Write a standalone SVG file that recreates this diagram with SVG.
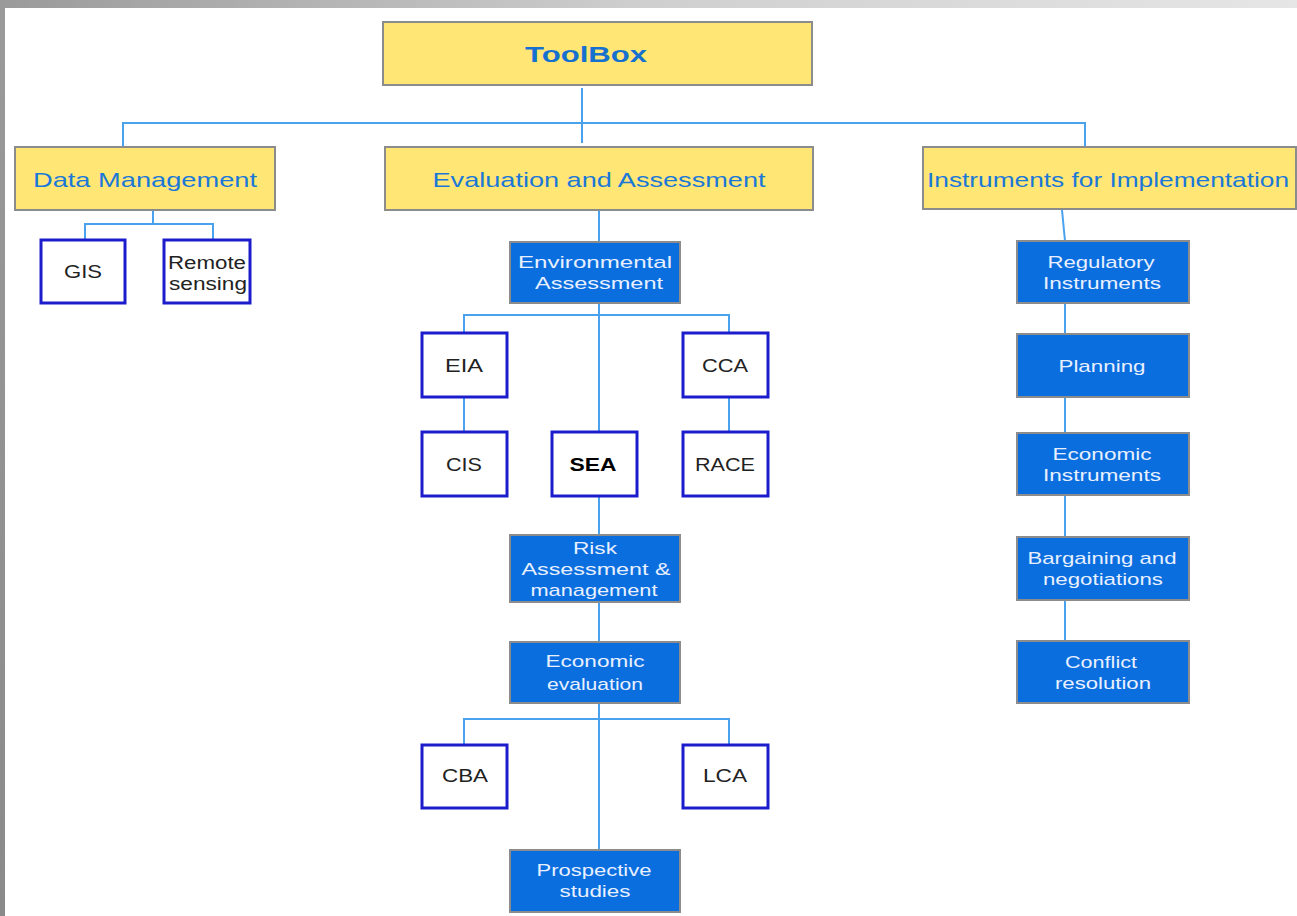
<svg xmlns="http://www.w3.org/2000/svg" width="1297" height="916" viewBox="0 0 1297 916">
<defs>
<linearGradient id="topband" x1="0" y1="0" x2="1" y2="0">
<stop offset="0" stop-color="#9a9a9a"/>
<stop offset="0.5" stop-color="#cfcfcf"/>
<stop offset="1" stop-color="#e6e6e6"/>
</linearGradient>
<linearGradient id="leftband" x1="0" y1="0" x2="0" y2="1">
<stop offset="0" stop-color="#9a9a9a"/>
<stop offset="1" stop-color="#8a8a8a"/>
</linearGradient>
</defs>
<style>
.yel{fill:#ffe675;stroke:#8c8c8c;stroke-width:2}
.blu{fill:#0a6ede;stroke:#8c8c8c;stroke-width:2}
.wht{fill:#ffffff;stroke:#1c1ccc;stroke-width:3}
.con{fill:none;stroke:#4aa2ee;stroke-width:2}
text{text-anchor:middle;font-family:"Liberation Sans",Arial,sans-serif}
.yt{font-size:21px;fill:#1a78d8}
.bt{font-size:17px;fill:#e8f0ff}
.wt{font-size:18px;fill:#222}
</style>
<rect x="0" y="0" width="1297" height="916" fill="#ffffff"/>
<rect x="0" y="0" width="1297" height="8" fill="url(#topband)"/>
<rect x="0" y="0" width="5" height="916" fill="url(#leftband)"/>

<g id="connectors">
<path class="con" d="M582 88 V143"/>
<path class="con" d="M123 147 V123 H1085 V147"/>
<path class="con" d="M153 210 V224 M85 240 V224 H213 V240"/>
<path class="con" d="M599 210 V242"/>
<path class="con" d="M599 303 V432 M464 333 V315 H729 V333"/>
<path class="con" d="M464 397 V432 M729 397 V432"/>
<path class="con" d="M599 496 V535 M599 602 V642"/>
<path class="con" d="M599 703 V850 M464 745 V719 H729 V745"/>
<path class="con" d="M1062 210 L1065 241 M1065 303 V334 M1065 397 V433 M1065 495 V537 M1065 600 V641"/>
</g>

<g id="toolbox"><rect class="yel" x="383" y="22" width="429" height="63"/><text x="586" y="62" class="yt" style="font-weight:bold;font-size:22px;fill:#1570d0" textLength="122" lengthAdjust="spacingAndGlyphs">ToolBox</text></g>
<g id="data-management"><rect class="yel" x="15" y="147" width="260" height="63"/><text x="145" y="187" class="yt" textLength="224" lengthAdjust="spacingAndGlyphs">Data Management</text></g>
<g id="evaluation"><rect class="yel" x="385" y="147" width="428" height="63"/><text x="599" y="187" class="yt" textLength="333" lengthAdjust="spacingAndGlyphs">Evaluation and Assessment</text></g>
<g id="instruments"><rect class="yel" x="923" y="147" width="373" height="62"/><text x="1108" y="187" class="yt" textLength="362" lengthAdjust="spacingAndGlyphs">Instruments for Implementation</text></g>

<g id="gis"><rect class="wht" x="41" y="240" width="84" height="63"/><text x="83" y="278" class="wt" textLength="38" lengthAdjust="spacingAndGlyphs">GIS</text></g>
<g id="remote-sensing"><rect class="wht" x="164" y="240" width="86" height="63"/><text x="207" y="269" class="wt" textLength="78" lengthAdjust="spacingAndGlyphs">Remote</text><text x="208" y="290" class="wt" textLength="78" lengthAdjust="spacingAndGlyphs">sensing</text></g>

<g id="env-assessment"><rect class="blu" x="510" y="242" width="170" height="61"/><text x="595" y="268" class="bt" textLength="154" lengthAdjust="spacingAndGlyphs">Environmental</text><text x="599" y="289" class="bt" textLength="128" lengthAdjust="spacingAndGlyphs">Assessment</text></g>
<g id="eia"><rect class="wht" x="422" y="333" width="85" height="64"/><text x="464" y="372" class="wt" textLength="38" lengthAdjust="spacingAndGlyphs">EIA</text></g>
<g id="cca"><rect class="wht" x="683" y="333" width="85" height="64"/><text x="725" y="372" class="wt" textLength="46" lengthAdjust="spacingAndGlyphs">CCA</text></g>
<g id="cis"><rect class="wht" x="422" y="432" width="85" height="64"/><text x="464" y="471" class="wt" textLength="36" lengthAdjust="spacingAndGlyphs">CIS</text></g>
<g id="sea"><rect class="wht" x="552" y="432" width="85" height="64"/><text x="593" y="471" class="wt" style="font-weight:bold;fill:#000" textLength="47" lengthAdjust="spacingAndGlyphs">SEA</text></g>
<g id="race"><rect class="wht" x="683" y="432" width="85" height="64"/><text x="725" y="471" class="wt" textLength="60" lengthAdjust="spacingAndGlyphs">RACE</text></g>
<g id="risk"><rect class="blu" x="510" y="535" width="170" height="67"/><text x="595" y="554" class="bt" textLength="44" lengthAdjust="spacingAndGlyphs">Risk</text><text x="596" y="575" class="bt" textLength="149" lengthAdjust="spacingAndGlyphs">Assessment &amp;</text><text x="594" y="596" class="bt" textLength="127" lengthAdjust="spacingAndGlyphs">management</text></g>
<g id="economic-evaluation"><rect class="blu" x="510" y="642" width="170" height="61"/><text x="595" y="667" class="bt" textLength="99" lengthAdjust="spacingAndGlyphs">Economic</text><text x="595" y="690" class="bt" textLength="96" lengthAdjust="spacingAndGlyphs">evaluation</text></g>
<g id="cba"><rect class="wht" x="422" y="745" width="85" height="63"/><text x="465" y="782" class="wt" textLength="46" lengthAdjust="spacingAndGlyphs">CBA</text></g>
<g id="lca"><rect class="wht" x="683" y="745" width="85" height="63"/><text x="725" y="782" class="wt" textLength="44" lengthAdjust="spacingAndGlyphs">LCA</text></g>
<g id="prospective"><rect class="blu" x="510" y="850" width="170" height="62"/><text x="594" y="876" class="bt" textLength="115" lengthAdjust="spacingAndGlyphs">Prospective</text><text x="595" y="897" class="bt" textLength="71" lengthAdjust="spacingAndGlyphs">studies</text></g>

<g id="regulatory"><rect class="blu" x="1017" y="241" width="172" height="62"/><text x="1101" y="268" class="bt" textLength="107" lengthAdjust="spacingAndGlyphs">Regulatory</text><text x="1102" y="289" class="bt" textLength="118" lengthAdjust="spacingAndGlyphs">Instruments</text></g>
<g id="planning"><rect class="blu" x="1017" y="334" width="172" height="63"/><text x="1102" y="372" class="bt" textLength="87" lengthAdjust="spacingAndGlyphs">Planning</text></g>
<g id="economic-instruments"><rect class="blu" x="1017" y="433" width="172" height="62"/><text x="1102" y="460" class="bt" textLength="99" lengthAdjust="spacingAndGlyphs">Economic</text><text x="1102" y="481" class="bt" textLength="118" lengthAdjust="spacingAndGlyphs">Instruments</text></g>
<g id="bargaining"><rect class="blu" x="1017" y="537" width="172" height="63"/><text x="1102" y="564" class="bt" textLength="149" lengthAdjust="spacingAndGlyphs">Bargaining and</text><text x="1103" y="585" class="bt" textLength="120" lengthAdjust="spacingAndGlyphs">negotiations</text></g>
<g id="conflict"><rect class="blu" x="1017" y="641" width="172" height="62"/><text x="1101" y="668" class="bt" textLength="72" lengthAdjust="spacingAndGlyphs">Conflict</text><text x="1103" y="689" class="bt" textLength="96" lengthAdjust="spacingAndGlyphs">resolution</text></g>
</svg>
